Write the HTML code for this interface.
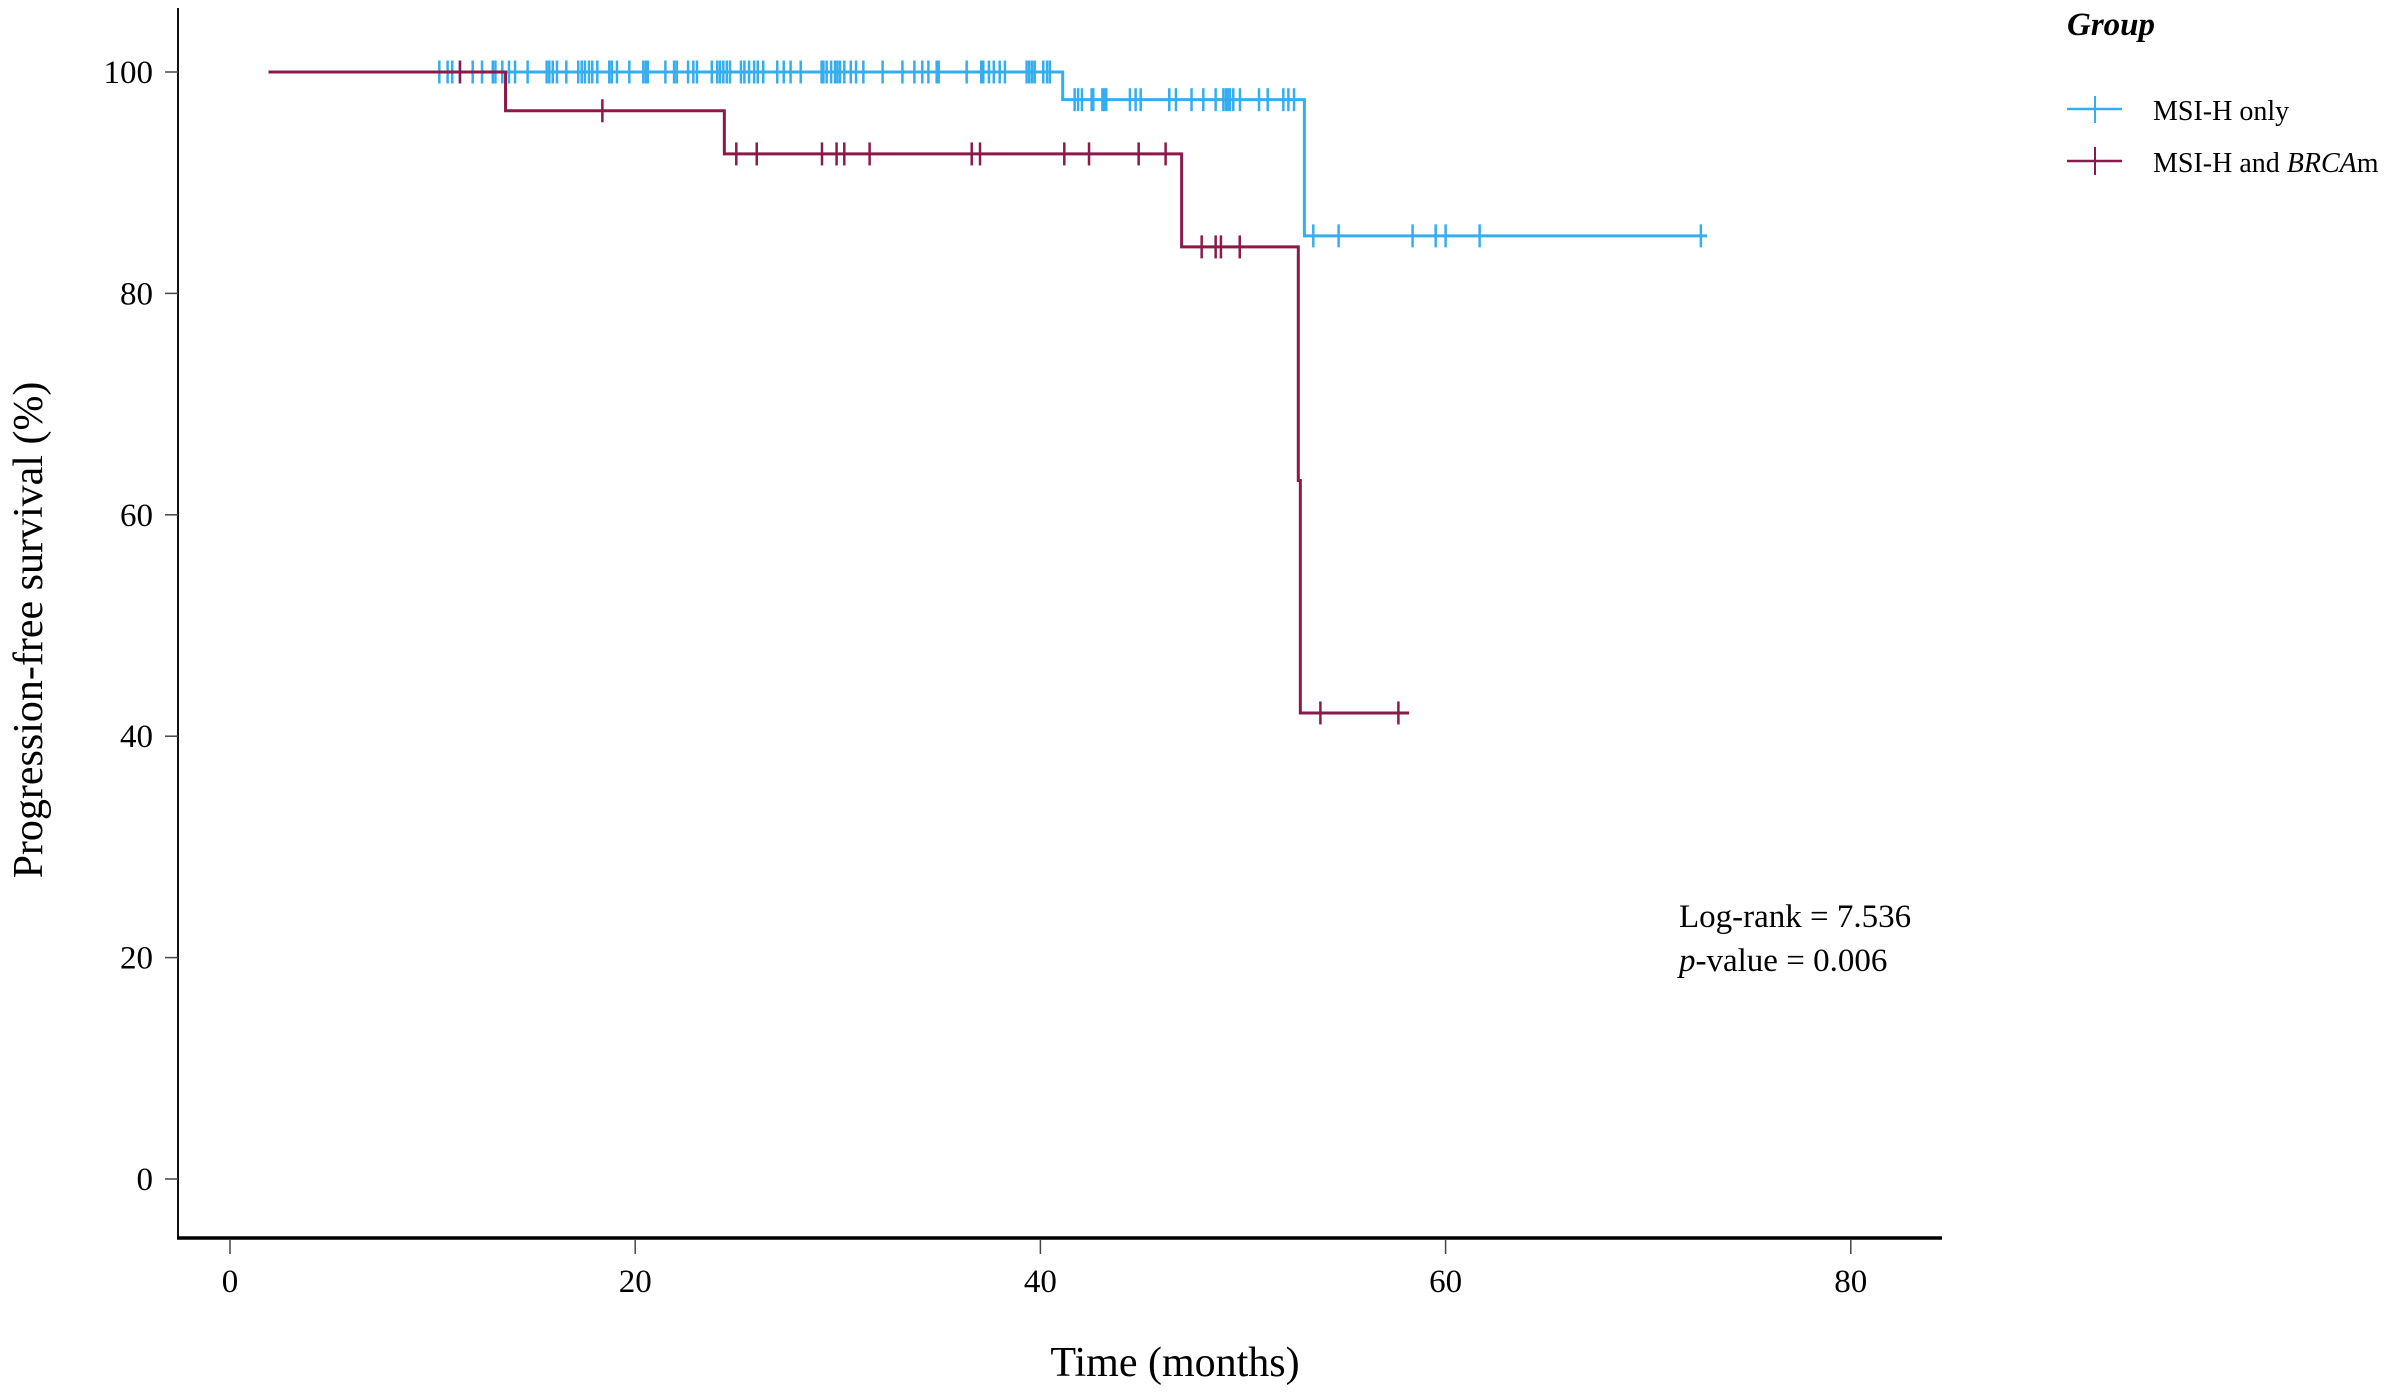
<!DOCTYPE html>
<html><head><meta charset="utf-8">
<style>
html,body{margin:0;padding:0;background:#fff;}
svg{display:block;font-family:"Liberation Serif",serif;}
</style></head>
<body>
<svg id="chart" width="2394" height="1396" viewBox="0 0 2394 1396" xmlns="http://www.w3.org/2000/svg">
  <g id="axes"></g>
  <g id="series"></g>
  <text transform="translate(42,630) rotate(-90)" text-anchor="middle" font-size="42">Progression-free survival (%)</text>
  <text x="1175" y="1376" text-anchor="middle" font-size="42">Time (months)</text>
  <text x="1679" y="927" font-size="33">Log-rank = 7.536</text>
  <text x="1679" y="971" font-size="33"><tspan font-style="italic">p</tspan>-value = 0.006</text>
  <text x="2067" y="35" font-size="33" font-weight="bold" font-style="italic">Group</text>
  <g>
    <line x1="2067" y1="109" x2="2122" y2="109" stroke="#35aef0" stroke-width="2.5"/>
    <line x1="2095" y1="96" x2="2095" y2="123" stroke="#35aef0" stroke-width="2"/>
    <text x="2153" y="120" font-size="28">MSI-H only</text>
  </g>
  <g>
    <line x1="2067" y1="161" x2="2122" y2="161" stroke="#8b1a4a" stroke-width="2.5"/>
    <line x1="2095" y1="147" x2="2095" y2="175" stroke="#8b1a4a" stroke-width="2"/>
    <text x="2153" y="172" font-size="28">MSI-H and <tspan font-style="italic">BRCA</tspan>m</text>
  </g>
</svg>
<script>
const xTicks = [0, 20, 40, 60, 80];
const yTicks = [0, 20, 40, 60, 80, 100];
// MSI-H only: step times and survival levels
const blueTimes = [0, 41.1, 53.03];
const blueLevels = [100, 97.5, 85.2];
const blueStart = 10.3;
const blueEnd = 72.9;
const blueCensor = [10.33,10.74,10.97,11.35,11.98,12.44,12.97,13.10,13.44,13.77,14.07,14.69,15.63,15.76,15.93,16.14,16.60,17.19,17.36,17.52,17.72,17.88,18.13,18.72,18.85,19.10,19.71,20.40,20.53,20.62,21.49,21.92,22.05,22.61,22.87,23.05,23.78,24.05,24.19,24.35,24.52,24.68,25.22,25.39,25.62,25.87,26.05,26.32,27.01,27.33,27.67,28.17,29.20,29.29,29.45,29.67,29.86,29.98,30.11,30.32,30.64,30.90,31.26,32.21,33.19,33.78,34.17,34.47,34.88,34.98,36.36,37.08,37.18,37.46,37.70,37.99,38.25,39.32,39.45,39.59,39.72,40.14,40.33,40.47,41.69,41.86,42.05,42.53,42.61,43.06,43.15,43.25,44.42,44.70,44.95,46.36,46.69,47.46,48.04,48.65,49.03,49.16,49.27,49.36,49.52,49.85,50.79,51.22,51.99,52.24,52.52,53.47,54.72,58.37,59.51,60.00,61.68,72.6];
// MSI-H and BRCAm
const redTimes = [0, 13.6, 24.4, 46.97, 52.73, 52.83];
const redLevels = [100, 96.5, 92.6, 84.2, 63.1, 42.1];
const redStart = 1.9;
const redEnd = 58.2;
const redCensor = [11.35,18.38,24.99,26.00,29.22,29.94,30.32,31.57,36.61,37.02,41.18,42.40,44.85,46.18,47.96,48.65,48.91,49.84,53.82,57.67];

const NS = "http://www.w3.org/2000/svg";
const xS = t => 230 + t * 20.26;
const yS = v => 1179 - v * 11.07;
function mk(tag, attrs, parent){ const e=document.createElementNS(NS,tag); for(const k in attrs) e.setAttribute(k,attrs[k]); parent.appendChild(e); return e; }

const axes = document.getElementById('axes');
let a = mk('line',{x1:178,y1:8,x2:178,y2:1239,stroke:'#111','stroke-width':2},axes);


a = mk('line',{x1:177,y1:1238,x2:1942,y2:1238,stroke:'#000','stroke-width':3.5},axes);


xTicks.forEach(t=>{
  const l = mk('line',{x1:xS(t),y1:1239,x2:xS(t),y2:1254,stroke:'#444','stroke-width':1.5},axes);
  
  
  const tx = mk('text',{x:xS(t),y:1292,'text-anchor':'middle','font-size':33},axes);
  tx.textContent = t;
  
  
});
yTicks.forEach(v=>{
  const l = mk('line',{x1:165,y1:yS(v),x2:178,y2:yS(v),stroke:'#444','stroke-width':1.5},axes);
  
  
  const tx = mk('text',{x:153,y:yS(v)+11,'text-anchor':'end','font-size':33},axes);
  tx.textContent = v;
  
  
});

const series = document.getElementById('series');
function drawCurve(times, levels, start, end, censor, color, name){
  const g = mk('g',{},series);
  
  
  let d = 'M'+xS(start)+' '+yS(levels[0]);
  for(let i=1;i<times.length;i++){
    d += ' H'+xS(times[i])+' V'+yS(levels[i]);
  }
  d += ' H'+xS(end);
  const p = mk('path',{d:d,fill:'none',stroke:color,'stroke-width':3},g);
  
  
  censor.forEach(t=>{
    let lv = levels[0];
    for(let i=0;i<times.length;i++){ if(t>=times[i]) lv = levels[i]; }
    const c = mk('line',{x1:xS(t),y1:yS(lv)-11.5,x2:xS(t),y2:yS(lv)+11.5,stroke:color,'stroke-width':2.5},g);
    
    
  });
}
drawCurve(blueTimes, blueLevels, blueStart, blueEnd, blueCensor, '#35aef0', 'msi-h-only-curve');
drawCurve(redTimes, redLevels, redStart, redEnd, redCensor, '#8b1a4a', 'msi-h-brcam-curve');
</script>
</body></html>
